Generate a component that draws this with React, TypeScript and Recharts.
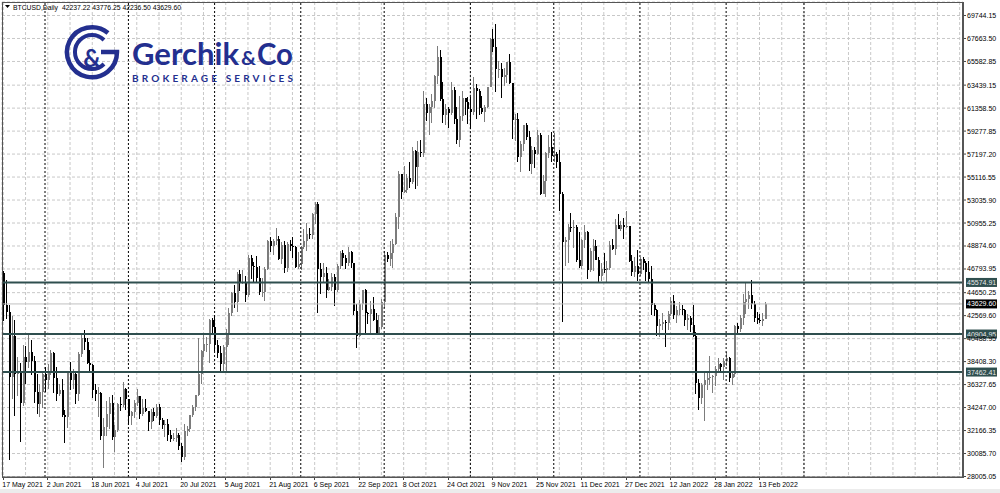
import React from "react";
import { Bar, CartesianGrid, ComposedChart, ReferenceLine, XAxis, YAxis } from "recharts";

// [open, high, low, close] per day, BTCUSD daily from 17 May 2021
type Candle = [number, number, number, number];

const may2021: Candle[] = [
  [46430, 46600, 42100, 43540], [43540, 45800, 42250, 42880], [42880, 43500, 29500, 37000],
  [37000, 42500, 35000, 40700], [40700, 42200, 33500, 37300], [37300, 38800, 35300, 37500],
  [37500, 38300, 31100, 34700], [34700, 39900, 34400, 38800], [38800, 39800, 36400, 38400],
  [38400, 40800, 37800, 39300], [39300, 40400, 37200, 38500], [38500, 38900, 34700, 35700],
  [35700, 37300, 33700, 34600], [34600, 36400, 33400, 35700], [35700, 37500, 34200, 37300],
];

const jun2021: Candle[] = [
  [37300, 37900, 35700, 36700], [36700, 38200, 35900, 37600], [37600, 39500, 37200, 39200],
  [39200, 39300, 35600, 36900], [36900, 37900, 34800, 35500], [35500, 36400, 35300, 35800],
  [35800, 36800, 33400, 33600], [33600, 34000, 31000, 33400], [33400, 37500, 32400, 37400],
  [37400, 38400, 35800, 36700], [36700, 37700, 35900, 37300], [37300, 37400, 34600, 35500],
  [35500, 39300, 34800, 39100], [39100, 41000, 38800, 40500], [40500, 41300, 39500, 40200],
  [40200, 40500, 38200, 38300], [38300, 39500, 37400, 38100], [38100, 38200, 35100, 35800],
  [35800, 36400, 34800, 35500], [35500, 36100, 33400, 35600], [35600, 35700, 31300, 31700],
  [31700, 33300, 28800, 32500], [32500, 34800, 31700, 33700], [33700, 35200, 32300, 34700],
  [34700, 35400, 31300, 31600], [31600, 32700, 30200, 32200], [32200, 34700, 32000, 34600],
  [34600, 35200, 33900, 34500], [34500, 36600, 34300, 35900], [35900, 36000, 34000, 35000],
];

const jul2021: Candle[] = [
  [35000, 35000, 32700, 33500], [33500, 33900, 32700, 33800], [33800, 34900, 33300, 34700],
  [34700, 35900, 34400, 35300], [35300, 35300, 33200, 33700], [33700, 35000, 33500, 34200],
  [34200, 35000, 33800, 33900], [33900, 33900, 32100, 32900], [32900, 34100, 32300, 33800],
  [33800, 34200, 33000, 33500], [33500, 34600, 33300, 34300], [34300, 34600, 32700, 33100],
  [33100, 33300, 32300, 32700], [32700, 33100, 31600, 32800], [32800, 33200, 31200, 31800],
  [31800, 32200, 31100, 31400], [31400, 31900, 31200, 31500], [31500, 32400, 31100, 31800],
  [31800, 31900, 30400, 30800], [30800, 31000, 29300, 29800], [29800, 32800, 29500, 32100],
  [32100, 32600, 31700, 32300], [32300, 33600, 32000, 33600], [33600, 34500, 33400, 34300],
  [34300, 35400, 33900, 35400], [35400, 40500, 35300, 37300], [37300, 39500, 36400, 39400],
  [39400, 40900, 38800, 40000], [40000, 40600, 39300, 40000], [40000, 42300, 38300, 42200],
  [42200, 42400, 41000, 41500],
];

const aug2021: Candle[] = [
  [41500, 42600, 39400, 39900], [39900, 40400, 38700, 39200], [39200, 39800, 37600, 38200],
  [38200, 39900, 37500, 39700], [39700, 41400, 37400, 40900], [40900, 43300, 39900, 42800],
  [42800, 44700, 42500, 44600], [44600, 45300, 43300, 43800], [43800, 46500, 42900, 46300],
  [46300, 46700, 44800, 45600], [45600, 46700, 45400, 45600], [45600, 46200, 43800, 44400],
  [44400, 48100, 44300, 47800], [47800, 48100, 45900, 47100], [47100, 47400, 45600, 47000],
  [47000, 48000, 45500, 46000], [46000, 47100, 44400, 44700], [44700, 46000, 44300, 44700],
  [44700, 47000, 43900, 46800], [46800, 49400, 46700, 49300], [49300, 49700, 48300, 48900],
  [48900, 49500, 48100, 49300], [49300, 50500, 49000, 49500], [49500, 49800, 47600, 47700],
  [47700, 49200, 47200, 49000], [49000, 49300, 46400, 46900], [46900, 49200, 46500, 49100],
  [49100, 49400, 48400, 48900], [48900, 49700, 47800, 48800], [48800, 48900, 46900, 47000],
  [47000, 48300, 46800, 47200],
];

const sep2021: Candle[] = [
  [47200, 48900, 46700, 48800], [48800, 50400, 48600, 49300], [49300, 51000, 48400, 50000],
  [50000, 50500, 49500, 49900], [49900, 51900, 49500, 51800], [51800, 52900, 50900, 52700],
  [52700, 52900, 42800, 46800], [46800, 47300, 44500, 46100], [46100, 47300, 45500, 46400],
  [46400, 47000, 44200, 44900], [44900, 45900, 44800, 45200], [45200, 46400, 44800, 46100],
  [46100, 46300, 43400, 44900], [44900, 47200, 44700, 47100], [47100, 48400, 46800, 48200],
  [48200, 48500, 47100, 47800], [47800, 48100, 46800, 47300], [47300, 48800, 47100, 48300],
  [48300, 48400, 46900, 47300], [47300, 47300, 42600, 43000], [43000, 43600, 39600, 40700],
  [40700, 44000, 40600, 43600], [43600, 44900, 43100, 44900], [44900, 45000, 40800, 42800],
  [42800, 42900, 41800, 42700], [42700, 43900, 40900, 43200], [43200, 44300, 42100, 42200],
  [42200, 42800, 40900, 41000], [41000, 42600, 40800, 41500], [41500, 44100, 41400, 43800],
];

const oct2021: Candle[] = [
  [43800, 48400, 43300, 48100], [48100, 48300, 47400, 47700], [47700, 49300, 47100, 48200],
  [48200, 49500, 46900, 49100], [49100, 51900, 49000, 51500], [51500, 55700, 50400, 55400],
  [55400, 55400, 53100, 53800], [53800, 56100, 53700, 53900], [53900, 55400, 53700, 55000],
  [55000, 56500, 54100, 54700], [54700, 57800, 54500, 57500], [57500, 57600, 54000, 56000],
  [56000, 58400, 54300, 57400], [57400, 58500, 56900, 57300], [57300, 62900, 56900, 61700],
  [61700, 62300, 60200, 60900], [60900, 61700, 58900, 61500], [61500, 62600, 60000, 62000],
  [62000, 64400, 61400, 64300], [64300, 67000, 63500, 66000], [66000, 66600, 62000, 62200],
  [62200, 63700, 60000, 60700], [60700, 61700, 59800, 61300], [61300, 61500, 59600, 60900],
  [60900, 63700, 60700, 63000], [63000, 63300, 59900, 60400], [60400, 61500, 58100, 58500],
  [58500, 62500, 57800, 60600], [60600, 62900, 60200, 62300], [62300, 62300, 60700, 61900],
  [61900, 62400, 59900, 61300],
];

const nov2021: Candle[] = [
  [61300, 62400, 59500, 61000], [61000, 64200, 60700, 63200], [63200, 63500, 60400, 62900],
  [62900, 63100, 60700, 61400], [61400, 62500, 60800, 61000], [61000, 61600, 60100, 61500],
  [61500, 63300, 61400, 63300], [63300, 67700, 63300, 67600], [67600, 68500, 66400, 66900],
  [66900, 69000, 62800, 64900], [64900, 65600, 64100, 64900], [64900, 65400, 62300, 64200],
  [64200, 65000, 63400, 64400], [64400, 65300, 63600, 65500], [65500, 66300, 63500, 63600],
  [63600, 63600, 58600, 60300], [60300, 60800, 58400, 60400], [60400, 60900, 56500, 56900],
  [56900, 58400, 55600, 58100], [58100, 59800, 57500, 59800], [59800, 60000, 58500, 58700],
  [58700, 59300, 55700, 56300], [56300, 57900, 55400, 57600], [57600, 57800, 55900, 57200],
  [57200, 59400, 57100, 58900], [58900, 59100, 53500, 53600], [53600, 55300, 53600, 54800],
  [54800, 57400, 53300, 57300], [57300, 58900, 56800, 57800], [57800, 59200, 56500, 57000],
];

const dec2021: Candle[] = [
  [57000, 59100, 56500, 57200], [57200, 57400, 55900, 56500], [56500, 57600, 52000, 53600],
  [53600, 53800, 42000, 49200], [49200, 49700, 47100, 49400], [49400, 50900, 47300, 50600],
  [50600, 51900, 50100, 50500], [50500, 51200, 48700, 50600], [50600, 50800, 47400, 47600],
  [47600, 50100, 46900, 47100], [47100, 49500, 46800, 49400], [49400, 50800, 48700, 50100],
  [50100, 50200, 45900, 46700], [46700, 48700, 46500, 48400], [48400, 49500, 46600, 48900],
  [48900, 49400, 47600, 47600], [47600, 47900, 45600, 46200], [46200, 47300, 45700, 46800],
  [46800, 48200, 46400, 46700], [46700, 47500, 45600, 46900], [46900, 49300, 46700, 49000],
  [49000, 49500, 48500, 48600], [48600, 51300, 48100, 50800], [50800, 51800, 50500, 50400],
  [50400, 51100, 50200, 50800], [50800, 51400, 49500, 50600], [50600, 52000, 50500, 50700],
  [50700, 50700, 47400, 47500], [47500, 48100, 46200, 46500], [46500, 47900, 46100, 47100],
  [47100, 48500, 45700, 46300],
];

const jan2022: Candle[] = [
  [46300, 47900, 46200, 47700], [47700, 47900, 46700, 47300], [47300, 47500, 45700, 46500],
  [46500, 47500, 45500, 45900], [45900, 47100, 42600, 43500], [43500, 43700, 42500, 43100],
  [43100, 43200, 40700, 41600], [41600, 42300, 40600, 41800], [41800, 42800, 41300, 42000],
  [42000, 42200, 39700, 41900], [41900, 43000, 41300, 42700], [42700, 44300, 42500, 43900],
  [43900, 44400, 42300, 42600], [42600, 43400, 41900, 43100], [43100, 43800, 42600, 43200],
  [43200, 43500, 42600, 43100], [43100, 43200, 41600, 42200], [42200, 42700, 41300, 42400],
  [42400, 42500, 41100, 41700], [41700, 43500, 40600, 40700], [40700, 41100, 35500, 36500],
  [36500, 36800, 34000, 35100], [35100, 36500, 34600, 36300], [36300, 37500, 33000, 36700],
  [36700, 37500, 35800, 36900], [36900, 38900, 36300, 37000], [37000, 37200, 35600, 37100],
  [37100, 38000, 36200, 37700], [37700, 38700, 37400, 38200], [38200, 38300, 37400, 37900],
  [37900, 38700, 36700, 38500],
];

const feb2022: Candle[] = [
  [38500, 39300, 38000, 38700], [38700, 38800, 36600, 36900], [36900, 37400, 36300, 37300],
  [37300, 41700, 37000, 41600], [41600, 41900, 40900, 41400], [41400, 42600, 41100, 42400],
  [42400, 44500, 41700, 43800], [43800, 45500, 42700, 44100], [44100, 44800, 43200, 44400],
  [44400, 45800, 43200, 43600], [43600, 43900, 42000, 42400], [42400, 42900, 41800, 42200],
  [42200, 42700, 41900, 42100], [42100, 42800, 41600, 42237.22],
  [42237.22, 43776.25, 42236.5, 43629.6],
];

const candles: Candle[] = [
  ...may2021, ...jun2021, ...jul2021, ...aug2021, ...sep2021,
  ...oct2021, ...nov2021, ...dec2021, ...jan2022, ...feb2022,
];

// day index (0 = 17 May 2021) -> label
const dateLabels: [number, string][] = [
  [0, "17 May 2021"], [16, "2 Jun 2021"], [32, "18 Jun 2021"], [48, "4 Jul 2021"],
  [64, "20 Jul 2021"], [80, "5 Aug 2021"], [96, "21 Aug 2021"], [112, "6 Sep 2021"],
  [128, "22 Sep 2021"], [144, "8 Oct 2021"], [160, "24 Oct 2021"], [176, "9 Nov 2021"],
  [192, "25 Nov 2021"], [208, "11 Dec 2021"], [224, "27 Dec 2021"], [240, "12 Jan 2022"],
  [256, "28 Jan 2022"], [272, "13 Feb 2022"],
];

const gridDays = [
  0, 8, 16, 24, 32, 40, 48, 56, 64, 72, 80, 88, 96, 104, 112, 120, 128, 136, 144, 152, 160,
  168, 176, 184, 192, 200, 208, 216, 224, 232, 240, 248, 256, 264, 272, 280, 288, 296, 304,
  312, 320, 328, 336, 344,
];

// first day of each month (period separators)
const monthStarts = [15, 45, 76, 107, 137, 168, 198, 229, 260, 288];

const priceTicks = [
  69744.15, 67663.5, 65582.85, 63439.15, 61358.5, 59277.85, 57197.2, 55116.55, 53035.9,
  50955.25, 48874.6, 46793.95, 44650.25, 42569.6, 40488.95, 38408.3, 36327.65, 34247.0,
  32166.35, 30085.7, 28005.05,
];

const levels = [45574.91, 40904.95, 37462.41];
const bidPrice = 43629.6;
const symbolText = "BTCUSD,Daily";
const quoteText = "42237.22 43776.25 42236.50 43629.60";

const BULL = "#7c7c7c";
const BEAR = "#000000";
const LEVEL = "#2F4F4F";
const LOGO = "#232f8f";
const FONT = "'Liberation Sans', Arial, sans-serif";

const chartData = candles.map((c, i) => ({ t: i, o: c[0], h: c[1], l: c[2], c: c[3], range: [c[2], c[1]] }));
const labelMap = new Map(dateLabels);

function CandleShape(props: any) {
  const { x, y, width, height, payload } = props;
  if (!payload || height == null) return null;
  const { o, h, l, c } = payload;
  const k = height / (h - l);
  const cx = Math.round(x + width / 2);
  const top = y + (h - Math.max(o, c)) * k;
  const bot = y + (h - Math.min(o, c)) * k;
  const col = c >= o ? BULL : BEAR;
  return (
    <g shapeRendering="crispEdges">
      <line x1={cx + 0.5} x2={cx + 0.5} y1={y} y2={y + height} stroke={col} strokeWidth={1} />
      <rect x={cx - 0.5} y={top} width={2.4} height={Math.max(1, bot - top)} fill={col} />
    </g>
  );
}

function TimeTick(props: any) {
  const { x, y, payload } = props;
  const txt = labelMap.get(payload.value);
  if (!txt) return null;
  return (
    <g>
      <line x1={x} x2={x} y1={y} y2={y + 3} stroke="#444" shapeRendering="crispEdges" />
      <text x={x - 1} y={y + 10} fontSize={7} fontFamily={FONT} fill="#000" textAnchor="start">
        {txt}
      </text>
    </g>
  );
}

function PriceTick(props: any) {
  const { x, y, payload } = props;
  return (
    <text x={x} y={y + 2.5} fontSize={7} fontFamily={FONT} fill="#000" textAnchor="start">
      {Number(payload.value).toFixed(2)}
    </text>
  );
}

function priceBox(text: string, bg: string, fg: string) {
  return (p: any) => {
    const vb = p.viewBox || {};
    const right = (vb.x ?? 0) + (vb.width ?? 0);
    const yy = vb.y ?? 0;
    return (
      <g>
        <rect x={right + 3} y={yy - 4.5} width={31} height={9} fill={bg} />
        <text x={right + 4} y={yy + 2.5} fontSize={7} fontFamily={FONT} fill={fg}>
          {text}
        </text>
      </g>
    );
  };
}

function Overlay() {
  return (
    <svg width={1000} height={493} style={{ position: "absolute", left: 0, top: 0, pointerEvents: "none" }}>
      <rect x={2} y={2} width={961} height={475} fill="none" stroke="#555" strokeWidth={1} shapeRendering="crispEdges" />
      <polygon points="5,5 10,5 7.5,8" fill="#000" />
      <text x={13} y={9.5} fontSize={6.8} fontFamily={FONT} fill="#000">
        {symbolText}
      </text>
      <text x={62} y={9.5} fontSize={6.8} fontFamily={FONT} fill="#000">
        {quoteText}
      </text>
      <g fill="none" stroke={LOGO}>
        <path d="M 108 33 A 25 25 0 1 0 117 52 L 101 52" strokeWidth={4.5} />
        <path d="M 104 40 A 17 17 0 1 0 104 64" strokeWidth={4} />
      </g>
      <text x={92} y={67} fontSize={24} fontWeight={700} fontFamily="Lato, 'Open Sans', sans-serif" fill={LOGO} textAnchor="middle">
        &amp;
      </text>
      <text x={132} y={65} fontSize={31} fontWeight={700} fontFamily="Lato, 'Open Sans', sans-serif" fill={LOGO} textLength={107} lengthAdjust="spacingAndGlyphs">
        Gerchik
      </text>
      <text x={241} y={65} fontSize={19} fontWeight={700} fontFamily="Lato, 'Open Sans', sans-serif" fill={LOGO} textLength={15} lengthAdjust="spacingAndGlyphs">
        &amp;
      </text>
      <text x={257} y={65} fontSize={31} fontWeight={700} fontFamily="Lato, 'Open Sans', sans-serif" fill={LOGO} textLength={36} lengthAdjust="spacingAndGlyphs">
        Co
      </text>
      <text x={132} y={81.5} fontSize={10} fontWeight={700} fontFamily="Lato, 'Open Sans', sans-serif" fill={LOGO} textLength={161} lengthAdjust="spacing">
        BROKERAGE SERVICES
      </text>
    </svg>
  );
}

export default function App() {
  return (
    <div style={{ position: "absolute", left: 0, top: 0, width: 1000, height: 493, background: "#fff", overflow: "hidden" }}>
      <div style={{ position: "absolute", left: 0, bottom: 0, width: 1000, height: 4, background: "#ececec" }} />
      <ComposedChart width={1000} height={493} data={chartData} margin={{ top: 2, right: 0, bottom: 0, left: 2 }}>
        <CartesianGrid stroke="#c8c8c8" strokeDasharray="3 2" />
        <XAxis
          type="number"
          dataKey="t"
          domain={[-0.47, 345.2]}
          ticks={gridDays}
          interval={0}
          allowDataOverflow
          height={16}
          tickSize={0}
          tickMargin={0}
          tickLine={false}
          axisLine={{ stroke: "#555" }}
          tick={<TimeTick />}
        />
        <YAxis
          orientation="right"
          type="number"
          domain={[27960, 70966]}
          ticks={priceTicks}
          interval={0}
          allowDataOverflow
          width={37}
          tickSize={3}
          tickMargin={1}
          tickLine={{ stroke: "#444" }}
          axisLine={{ stroke: "#555", strokeWidth: 2 }}
          tick={<PriceTick />}
        />
        {monthStarts.map((d) => (
          <ReferenceLine key={d} x={d} stroke="#000" strokeDasharray="2 2" strokeWidth={1} />
        ))}
        <Bar dataKey="range" barSize={3} shape={<CandleShape />} isAnimationActive={false} />
        <ReferenceLine y={bidPrice} stroke="#c0c0c0" strokeWidth={1} label={priceBox(bidPrice.toFixed(2), "#000", "#fff")} />
        {levels.map((v) => (
          <ReferenceLine key={v} y={v} stroke={LEVEL} strokeWidth={2} label={priceBox(v.toFixed(2), LEVEL, "#e8e8e8")} />
        ))}
      </ComposedChart>
      <Overlay />
    </div>
  );
}
